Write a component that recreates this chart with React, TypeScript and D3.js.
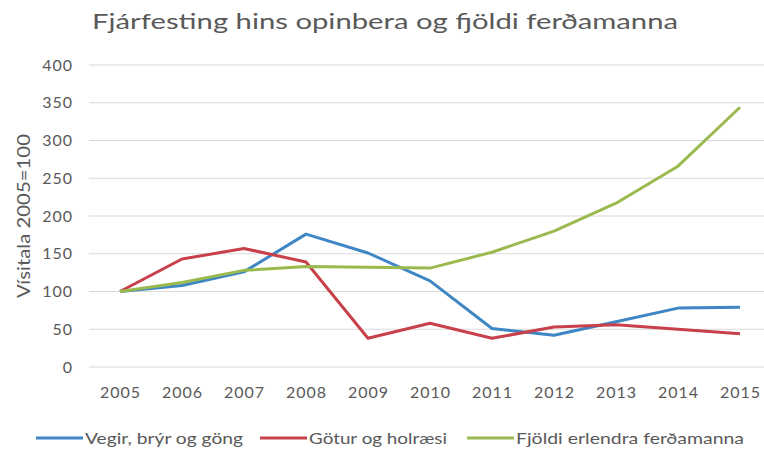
import { useEffect, useRef } from 'react';
import * as d3 from 'd3';

const years = ['2005', '2006', '2007', '2008', '2009', '2010', '2011', '2012', '2013', '2014', '2015'];
const vegir = [100, 108, 126, 176, 151, 114, 51, 42, 60, 78, 79];
const gotur = [100, 143, 157, 139, 38, 58, 38, 53, 56, 50, 44];
const fjoldi = [100, 112, 128, 133, 132, 131, 152, 180, 217, 266, 344];
const yTicks = [0, 50, 100, 150, 200, 250, 300, 350, 400];

const series = [
  { name: 'Vegir, brýr og göng', values: vegir, color: '#3f86c5' },
  { name: 'Götur og holræsi', values: gotur, color: '#c8404a' },
  { name: 'Fjöldi erlendra ferðamanna', values: fjoldi, color: '#9aba4f' },
];

const font = 'Lato, "Open Sans", sans-serif';
const textColor = '#595959';

const App = () => {
  const svgRef = useRef<SVGSVGElement>(null);

  useEffect(() => {
    if (!svgRef.current) return;
    const width = 764;
    const height = 450;
    const margin = { top: 65, right: -7, bottom: 83, left: 89 };

    const svg = d3.select(svgRef.current);
    svg.selectAll('*').remove();
    svg.attr('width', width).attr('height', height);

    svg.append('rect').attr('width', width).attr('height', height).attr('fill', '#fff');

    const x = d3.scalePoint<string>()
      .domain(years)
      .range([margin.left, width - margin.right])
      .padding(0.5);

    const y = d3.scaleLinear()
      .domain([0, 400])
      .range([height - margin.bottom, margin.top]);

    // title (source image is stretched sideways, so fit text to its width)
    svg.append('text')
      .attr('x', 92)
      .attr('y', 29)
      .attr('textLength', 586)
      .attr('lengthAdjust', 'spacingAndGlyphs')
      .style('font-family', font)
      .style('font-size', '22px')
      .attr('fill', textColor)
      .text('Fjárfesting hins opinbera og fjöldi ferðamanna');

    // gridlines
    svg.append('g')
      .selectAll('line')
      .data(yTicks)
      .enter()
      .append('line')
      .attr('x1', margin.left)
      .attr('x2', width - margin.right)
      .attr('y1', d => y(d))
      .attr('y2', d => y(d))
      .attr('stroke', '#d9d9d9')
      .attr('stroke-width', 1);

    // y labels
    svg.append('g')
      .selectAll('text')
      .data(yTicks)
      .enter()
      .append('text')
      .attr('x', 73)
      .attr('y', d => y(d))
      .attr('dy', '0.35em')
      .attr('text-anchor', 'end')
      .style('font-family', font)
      .style('font-size', '16px')
      .style('letter-spacing', '1px')
      .attr('fill', textColor)
      .text(d => d);

    svg.append('text')
      .attr('transform', `translate(24,${y(200) + 82}) rotate(-90)`)
      .attr('textLength', 164)
      .attr('lengthAdjust', 'spacingAndGlyphs')
      .attr('dy', '0.35em')
      .style('font-family', font)
      .style('font-size', '17px')
      .attr('fill', textColor)
      .text('Vísitala 2005=100');

    // x labels
    svg.append('g')
      .selectAll('text')
      .data(years)
      .enter()
      .append('text')
      .attr('x', d => (x(d) ?? 0) + 0.5)
      .attr('y', 392)
      .attr('dy', '0.35em')
      .attr('text-anchor', 'middle')
      .style('font-family', font)
      .style('font-size', '16px')
      .style('letter-spacing', '1px')
      .attr('fill', textColor)
      .text(d => d);

    const line = d3.line<number>()
      .x((_, i) => x(years[i]) ?? 0)
      .y(d => y(d));

    series.forEach(s => {
      svg.append('path')
        .datum(s.values)
        .attr('fill', 'none')
        .attr('stroke', s.color)
        .attr('stroke-width', 3)
        .attr('stroke-linejoin', 'round')
        .attr('d', line);
    });

    // legend
    const legendX = [36, 260, 467];
    const legendTextW = [158, 138, 228];
    const legend = svg.append('g');
    series.forEach((s, i) => {
      legend.append('line')
        .attr('x1', legendX[i])
        .attr('x2', legendX[i] + 47)
        .attr('y1', 438)
        .attr('y2', 438)
        .attr('stroke', s.color)
        .attr('stroke-width', 3);
      legend.append('text')
        .attr('x', legendX[i] + 49)
        .attr('y', 438)
        .attr('dy', '0.35em')
        .attr('textLength', legendTextW[i])
        .attr('lengthAdjust', 'spacingAndGlyphs')
        .style('font-family', font)
        .style('font-size', '16px')
        .attr('fill', textColor)
        .text(s.name);
    });
  }, []);

  return <svg ref={svgRef} style={{ position: 'absolute', left: 0, top: 0 }}></svg>;
};

export default App;
